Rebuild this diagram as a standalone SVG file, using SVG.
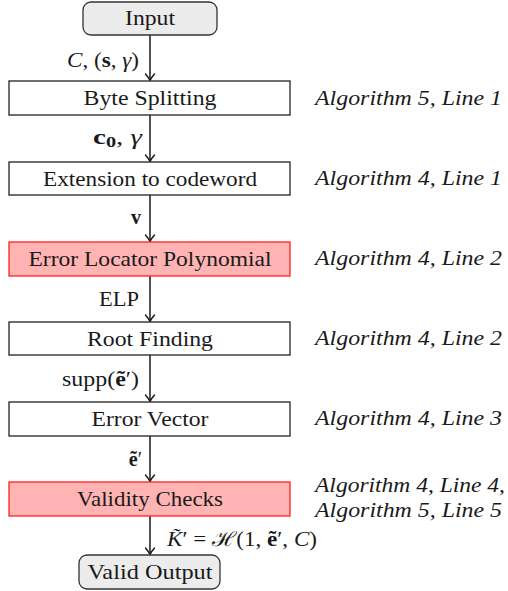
<svg xmlns="http://www.w3.org/2000/svg" width="508" height="591" viewBox="0 0 508 591">
<style>
.box{fill:#fff;stroke:#222;stroke-width:1.3}
.hot{fill:#ffb3b3;stroke:#ff2020;stroke-width:1.3}
.term{fill:#ececec;stroke:#333;stroke-width:1.3}
.t{font-family:"Liberation Serif","DejaVu Serif",serif;font-size:21px;fill:#1a1a1a;text-anchor:middle}
.lab{font-family:"Liberation Serif","DejaVu Serif",serif;font-size:20px;fill:#1a1a1a}
.alg{font-family:"Liberation Serif","DejaVu Serif",serif;font-size:20px;font-style:italic;fill:#1a1a1a}
.e{stroke:#1a1a1a;stroke-width:1.5;fill:none;marker-end:url(#ah)}
</style>
<defs>
<marker id="ah" markerUnits="userSpaceOnUse" markerWidth="12" markerHeight="12" viewBox="-8 -6 10 12" refX="0" refY="0" orient="auto">
<path d="M-6,-4.5 Q-2,-1 0.5,0 Q-2,1 -6,4.5" fill="none" stroke="#1a1a1a" stroke-width="1.5" stroke-linecap="round"/>
</marker>
</defs>
<g id="connectors">
<path class="e" d="M150,35 V80"/>
<path class="e" d="M150,115 V161"/>
<path class="e" d="M150,195 V241"/>
<path class="e" d="M150,275 V321"/>
<path class="e" d="M150,355 V401"/>
<path class="e" d="M150,436 V481"/>
<path class="e" d="M150,516 V554"/>
<text class="lab" x="67" y="67" textLength="72" lengthAdjust="spacingAndGlyphs"><tspan font-style="italic">C</tspan>, (<tspan font-weight="bold">s</tspan>, <tspan font-style="italic">γ</tspan>)</text>
<text class="lab" x="93" y="144" textLength="49" lengthAdjust="spacingAndGlyphs"><tspan font-weight="bold">c</tspan><tspan font-weight="bold" font-size="14" dy="3">0</tspan><tspan dy="-3">, </tspan><tspan font-style="italic">γ</tspan></text>
<text class="lab" x="141" y="224" text-anchor="end" font-weight="bold">v</text>
<text class="lab" x="99" y="306" textLength="40" lengthAdjust="spacingAndGlyphs">ELP</text>
<text class="lab" x="62" y="386" textLength="77" lengthAdjust="spacingAndGlyphs">supp(<tspan font-weight="bold">ẽ</tspan>′)</text>
<text class="lab" x="142" y="466" text-anchor="end"><tspan font-weight="bold">ẽ</tspan>′</text>
<text class="lab" x="167" y="546" textLength="150" lengthAdjust="spacingAndGlyphs"><tspan font-style="italic">K̃</tspan>′ = ℋ(1, <tspan font-weight="bold">ẽ</tspan>′, <tspan font-style="italic">C</tspan>)</text>
</g>
<g id="input"><rect class="term" x="83" y="2" width="134" height="33" rx="8"/><text class="t" x="150" y="25" textLength="50" lengthAdjust="spacingAndGlyphs">Input</text></g>
<g id="byte-splitting"><rect class="box" x="9" y="81" width="281" height="34"/><text class="t" x="150" y="105" textLength="133" lengthAdjust="spacingAndGlyphs">Byte Splitting</text></g>
<g id="extension"><rect class="box" x="9" y="162" width="281" height="33"/><text class="t" x="150" y="186" textLength="214" lengthAdjust="spacingAndGlyphs">Extension to codeword</text></g>
<g id="elp"><rect class="hot" x="9" y="242" width="281" height="34"/><text class="t" x="150" y="266" textLength="243" lengthAdjust="spacingAndGlyphs">Error Locator Polynomial</text></g>
<g id="root-finding"><rect class="box" x="9" y="322" width="281" height="33"/><text class="t" x="150" y="346" textLength="126" lengthAdjust="spacingAndGlyphs">Root Finding</text></g>
<g id="error-vector"><rect class="box" x="9" y="402" width="281" height="34"/><text class="t" x="150" y="426" textLength="117" lengthAdjust="spacingAndGlyphs">Error Vector</text></g>
<g id="validity"><rect class="hot" x="9" y="482" width="281" height="34"/><text class="t" x="150" y="506" textLength="146" lengthAdjust="spacingAndGlyphs">Validity Checks</text></g>
<g id="valid-output"><rect class="term" x="79" y="555" width="141" height="34" rx="8"/><text class="t" x="150" y="579" textLength="125" lengthAdjust="spacingAndGlyphs">Valid Output</text></g>
<g id="refs">
<text class="alg" x="315" y="105" textLength="187" lengthAdjust="spacingAndGlyphs">Algorithm 5, Line 1</text>
<text class="alg" x="315" y="185" textLength="187" lengthAdjust="spacingAndGlyphs">Algorithm 4, Line 1</text>
<text class="alg" x="315" y="265" textLength="187" lengthAdjust="spacingAndGlyphs">Algorithm 4, Line 2</text>
<text class="alg" x="315" y="345" textLength="187" lengthAdjust="spacingAndGlyphs">Algorithm 4, Line 2</text>
<text class="alg" x="315" y="425" textLength="187" lengthAdjust="spacingAndGlyphs">Algorithm 4, Line 3</text>
<text class="alg" x="315" y="492" textLength="190" lengthAdjust="spacingAndGlyphs">Algorithm 4, Line 4,</text>
<text class="alg" x="315" y="517" textLength="187" lengthAdjust="spacingAndGlyphs">Algorithm 5, Line 5</text>
</g>
</svg>
